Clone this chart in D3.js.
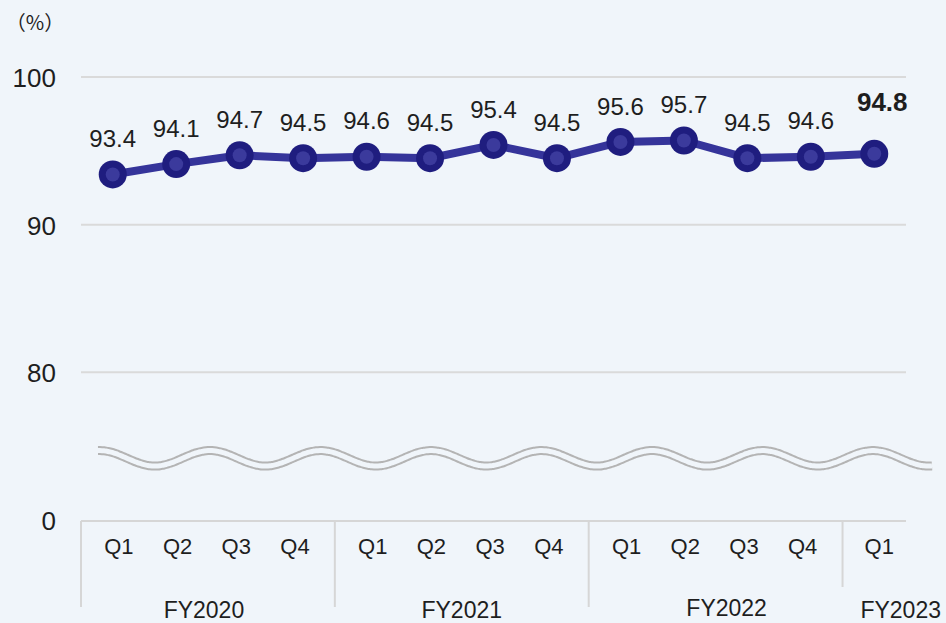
<!DOCTYPE html>
<html><head><meta charset="utf-8">
<script src="https://cdn.jsdelivr.net/npm/d3@7"></script>
<style>
html,body{margin:0;padding:0;background:#f0f5fa;}
svg{display:block;font-family:"Liberation Sans",Arial,sans-serif;}
</style></head>
<body>
<svg id="chart" width="946" height="623"></svg>
<script>
// ---- data ----
const quarters = ["Q1","Q2","Q3","Q4","Q1","Q2","Q3","Q4","Q1","Q2","Q3","Q4","Q1"];
const fiscalYears = ["FY2020","FY2021","FY2022","FY2023"];
const quartersPerYear = [4,4,4,1];
const values = [93.4,94.1,94.7,94.5,94.6,94.5,95.4,94.5,95.6,95.7,94.5,94.6,94.8];
const yTickValues = [70,80,90,100];
const yTickLabels = ["0","80","90","100"];
const unitLabel = "（%）";

(function(){
// ---- layout ----
const W = 946, H = 623;
const pLeft = 81, pRight = 906, pTop = 77, pBottom = 520;
const svg = d3.select("#chart");
svg.append("rect").attr("width",W).attr("height",H).attr("fill","#f0f5fa");

const idx = values.map((d,i)=>i);
const x = d3.scaleBand().domain(idx).range([pLeft,pRight]);
const cx = i => x(i) + x.bandwidth()/2;
const y = d3.scaleLinear().domain([70,100]).range([pBottom,pTop]);

// gridlines
svg.append("g").selectAll("line").data(yTickValues.filter(v=>v>70)).join("line")
  .attr("x1",pLeft).attr("x2",pRight)
  .attr("y1",d=>y(d)).attr("y2",d=>y(d))
  .attr("stroke","#dadada").attr("stroke-width",2);

// y axis labels
const yAxis = d3.axisLeft(y).tickValues(yTickValues)
  .tickFormat((d,i)=>yTickLabels[i]).tickSize(0).tickPadding(0);
const gy = svg.append("g").attr("transform","translate(56,0)").call(yAxis);
gy.select(".domain").remove();
gy.selectAll("text").attr("font-size",26).attr("fill","#1e1e1e")
  .attr("font-family","'Liberation Sans',Arial,sans-serif").attr("dy","0.36em");

// unit label
svg.append("text").attr("x",35).attr("y",30).attr("font-size",20)
  .attr("text-anchor","middle")
  .attr("font-family","'Noto Sans CJK JP',sans-serif").attr("fill","#1e1e1e").text(unitLabel);

// axis break wave (decoration)
const waveStart = 98, waveEnd = 932, period = 110.5, amp = 7.75, mid = 458.3;
const wavePts = d3.range(waveStart, waveEnd+0.5, 2).map(px => [px, mid - amp*Math.cos(2*Math.PI*(px-99.5)/period)]);
const waveLine = d3.line().curve(d3.curveBasis);
svg.append("path").attr("d",waveLine(wavePts)).attr("fill","none")
  .attr("stroke","#b4b4b4").attr("stroke-width",9);
svg.append("path").attr("d",waveLine(wavePts)).attr("fill","none")
  .attr("stroke","#f0f5fa").attr("stroke-width",5);

// x axis line
svg.append("line").attr("x1",pLeft).attr("x2",pRight).attr("y1",521).attr("y2",521)
  .attr("stroke","#d6d6d6").attr("stroke-width",2);

// groups
let start = 0;
const groups = fiscalYears.map((name,g)=>{
  const s = start; start += quartersPerYear[g];
  return {name, s, e: start-1};
});
const groupLabelDx = [-4,0,11,0];
groups.forEach((gr,g)=>{
  const gx0 = x(gr.s), gx1 = x(gr.e)+x.bandwidth();
  const gc = (gx0+gx1)/2;
  const last = g === groups.length-1;
  svg.append("line").attr("x1",gx0).attr("x2",gx0).attr("y1",521).attr("y2", last?587:607)
    .attr("stroke","#d6d6d6").attr("stroke-width",2);
  const n = gr.e-gr.s+1;
  const qs = d3.scalePoint().domain(d3.range(n)).range([gc-(n-1)/2*58.7, gc+(n-1)/2*58.7]);
  for(let k=0;k<n;k++){
    svg.append("text").attr("x", n>1 ? qs(k)-1 : gc+5).attr("y",554)
      .attr("text-anchor","middle").attr("font-size",22).attr("fill","#1e1e1e")
      .text(quarters[gr.s+k]);
  }
  svg.append("text")
    .attr("x", last ? 941 : gc+groupLabelDx[g])
    .attr("y", g===2 ? 616 : 618)
    .attr("text-anchor", last ? "end" : "middle")
    .attr("font-size",23).attr("fill","#1e1e1e").text(gr.name);
});

// line
const line = d3.line().x((d,i)=>cx(i)).y(d=>y(d));
svg.append("path").datum(values).attr("d",line).attr("fill","none")
  .attr("stroke","#35349a").attr("stroke-width",8).attr("stroke-linejoin","round");

// markers
const mk = svg.append("g");
mk.selectAll("circle.o").data(values).join("circle").attr("class","o")
  .attr("cx",(d,i)=>cx(i)).attr("cy",d=>y(d)).attr("r",14).attr("fill","#1f1d7f");
mk.selectAll("circle.i").data(values).join("circle").attr("class","i")
  .attr("cx",(d,i)=>cx(i)).attr("cy",d=>y(d)).attr("r",7).attr("fill","#3b3a9c");

// data labels
const lastI = values.length-1;
svg.append("g").selectAll("text").data(values).join("text")
  .attr("x",(d,i)=>cx(i) + (i===lastI?8:0))
  .attr("y",(d,i)=> i===lastI ? y(d)-52.5+0.358*26 : y(d)-36+0.358*24)
  .attr("text-anchor","middle")
  .attr("font-size",(d,i)=> i===lastI?26:24)
  .attr("font-weight",(d,i)=> i===lastI?"bold":"normal")
  .attr("fill","#1e1e1e")
  .text(d=>d.toFixed(1));
})();
</script>
</body></html>
